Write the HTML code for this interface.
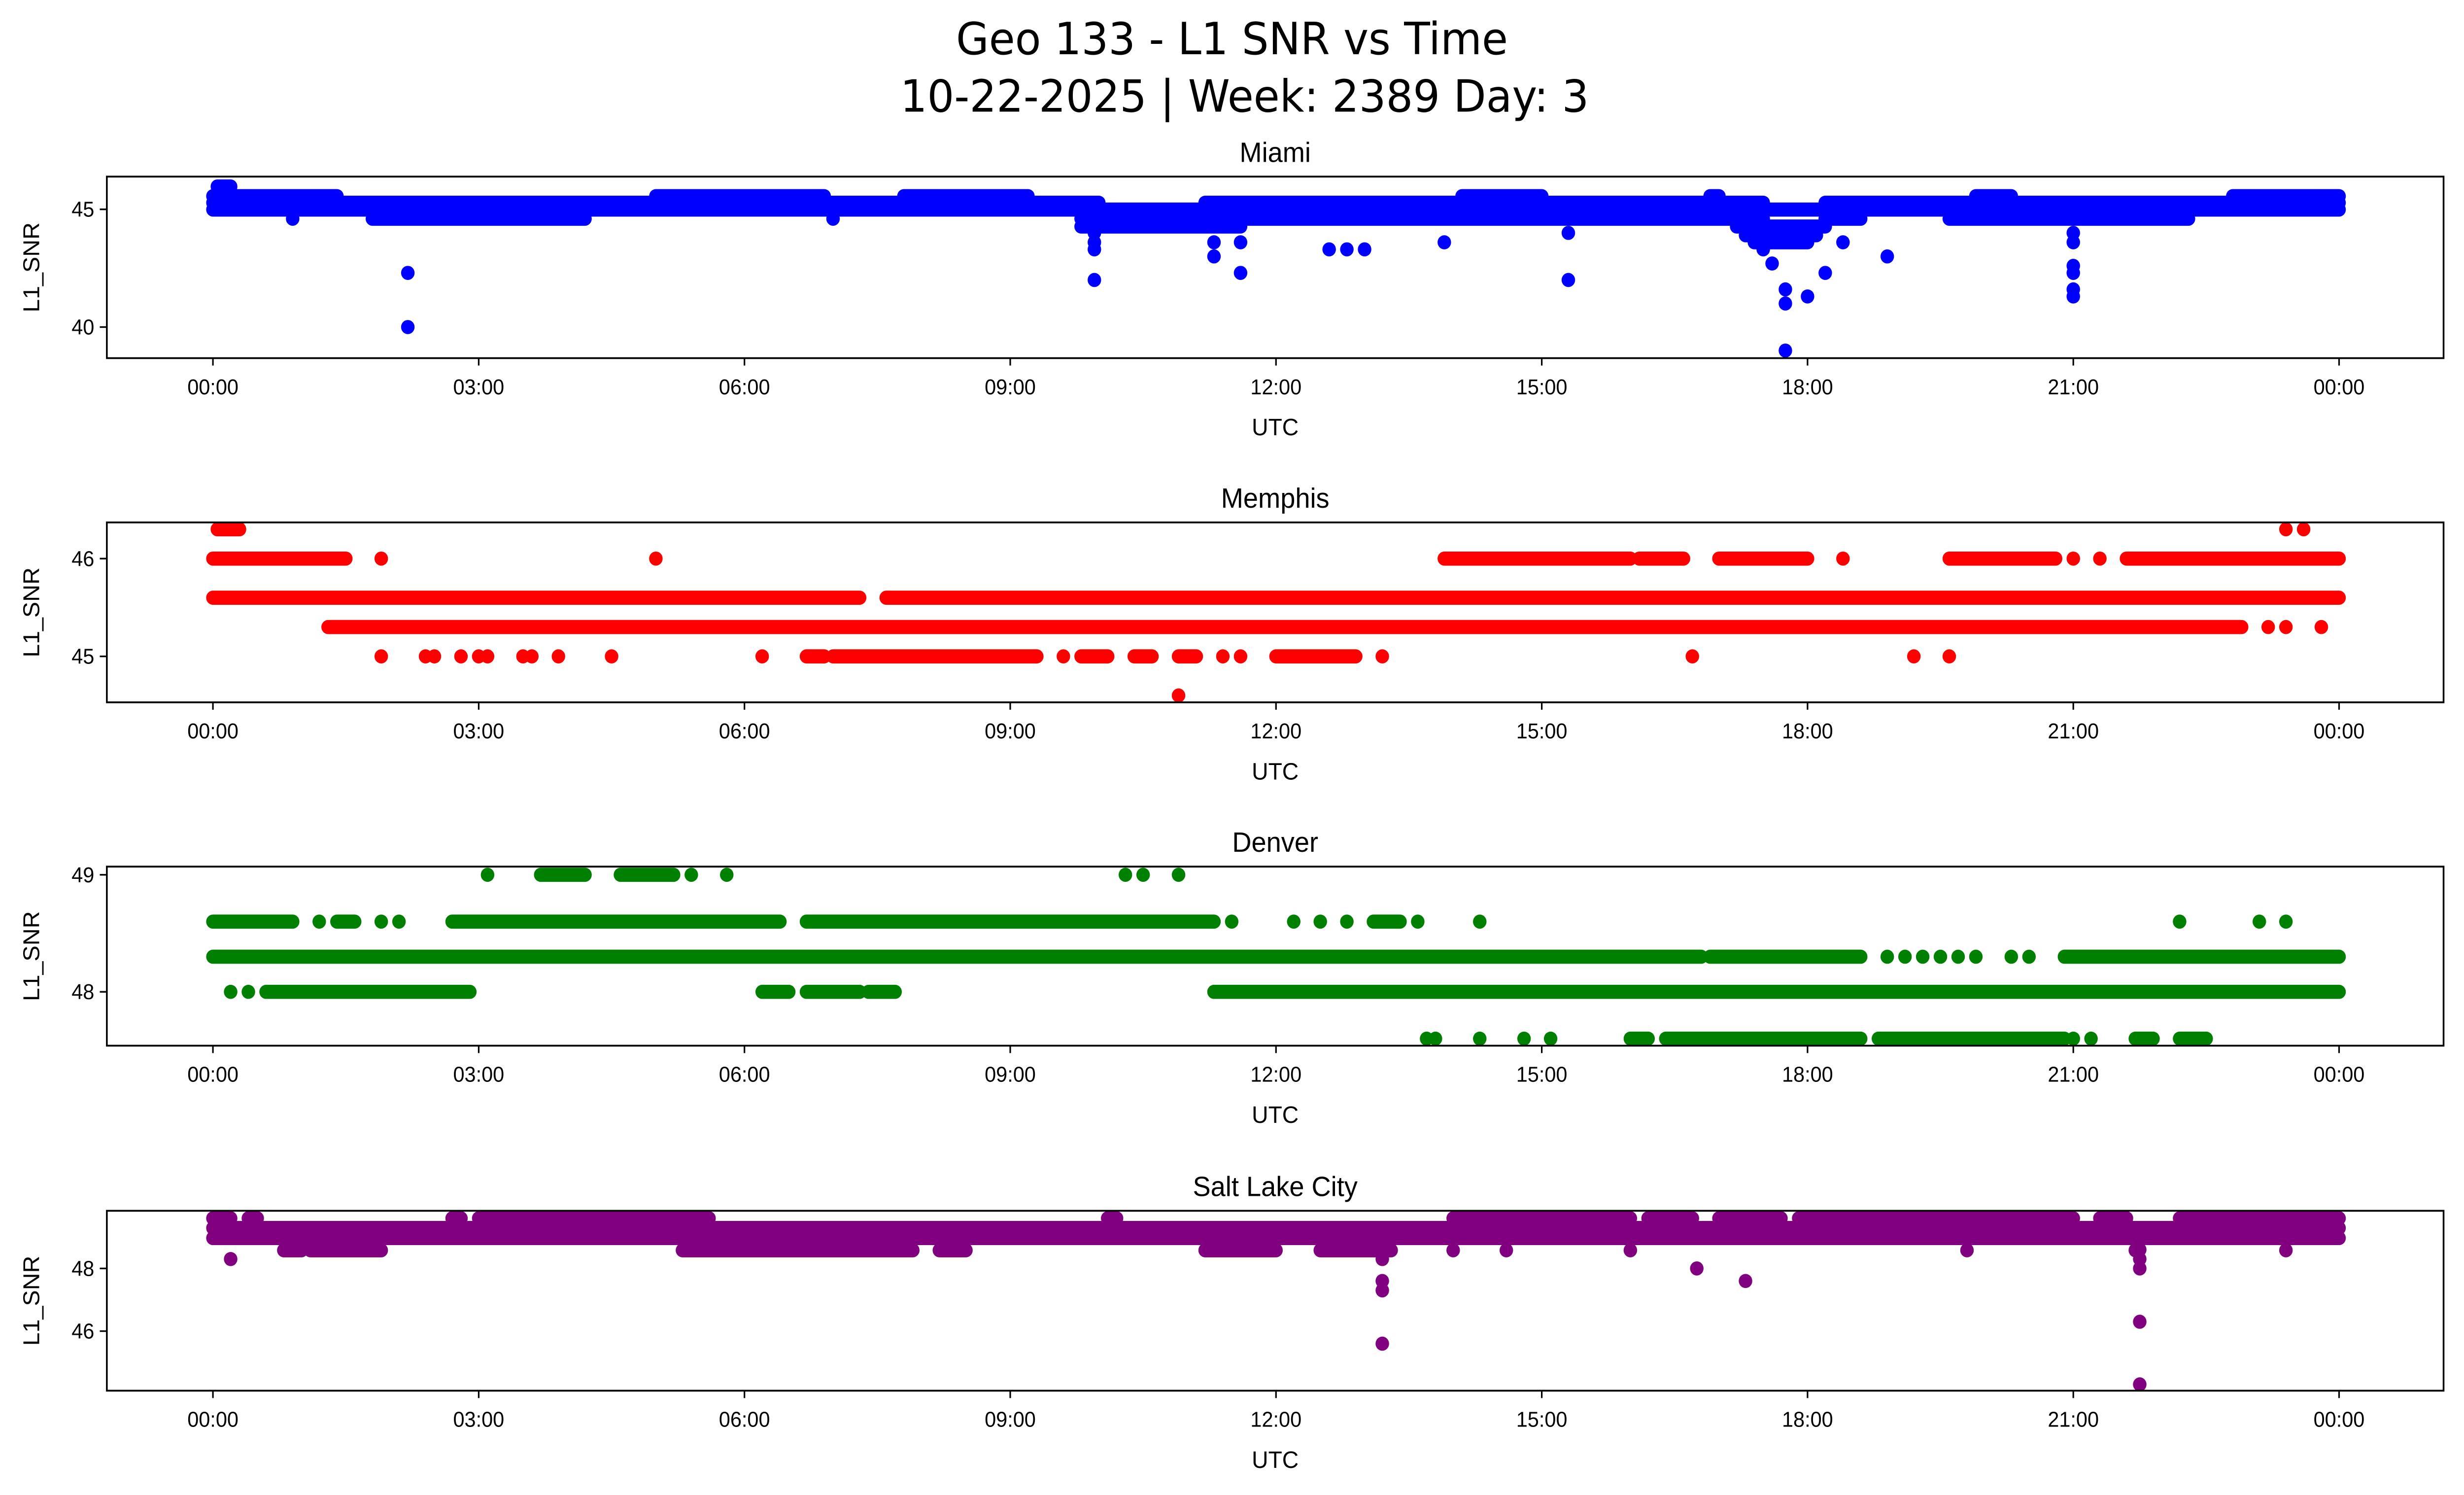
<!DOCTYPE html>
<html><head><meta charset="utf-8"><style>
html,body{margin:0;padding:0;background:#fff;overflow:hidden;width:100%;height:100%;}
svg{display:block;width:100vw;height:100vh;font-family:"Liberation Sans","DejaVu Sans",sans-serif;}
</style></head><body>
<svg id="fig" viewBox="0 0 1568 910" preserveAspectRatio="none" xmlns="http://www.w3.org/2000/svg">
<rect width="1568" height="910" fill="#fff"/>
<text x="784" y="33" font-size="27" text-anchor="middle" font-family="DejaVu Sans, sans-serif">Geo 133 - L1 SNR vs Time</text>
<text x="792" y="68" font-size="27" text-anchor="middle" font-family="DejaVu Sans, sans-serif">10-22-2025 | Week: 2389 Day: 3</text>
<g id="plots"></g>
</svg>
<script>
// x tick labels (hours)
const xTickHours = [0,3,6,9,12,15,18,21,24];
const xTickLabels = ["00:00","03:00","06:00","09:00","12:00","15:00","18:00","21:00","00:00"];

// Miami
const miamiRuns = [[45.97,0.05,0.2],[45.56,0,1.4],[45.56,5.0,6.9],[45.56,7.8,9.2],[45.56,14.1,15.0],[45.56,16.9,17.0],[45.56,19.9,20.3],[45.56,22.8,24],
 [45.28,0,10.0],[45.28,11.2,17.5],[45.28,18.2,24],[44.99,0,24],[44.6,1.8,4.2],[44.6,9.8,17.5],[44.6,18.2,18.6],[44.6,19.6,22.3],[44.27,9.8,11.6],[44.27,17.2,18.2],[43.9,17.3,18.1],[43.6,17.4,18.0]];
const miamiPts = [[2.2,42.3],[2.2,40],[9.95,42],[9.95,43.3],[9.95,43.6],[9.95,44],[11.3,43],[11.3,43.6],[11.6,42.3],[11.6,43.6],[12.6,43.3],[12.8,43.3],[13.0,43.3],[13.9,43.6],[15.3,42],[15.3,44],[17.5,43.3],[17.6,42.7],[17.75,41.6],[17.75,41],[17.75,39],[18.0,41.3],[18.2,42.3],[18.4,43.6],[18.9,43],[21.0,42.6],[21.0,42.3],[21.0,41.6],[21.0,41.3],[21.0,43.6],[21.0,44],[0.9,44.6],[7.0,44.6]];
// Memphis
const memphisRuns = [[46.3,0.05,0.3],[46.0,0,1.5],[46.0,13.9,16.0],[46.0,16.1,16.6],[46.0,17.0,18.0],[46.0,19.6,20.8],[46.0,21.6,24],
 [45.6,0,7.3],[45.6,7.6,24],[45.3,1.3,22.9],[45.0,7.0,9.3],[45.0,12.0,12.9],[45.0,6.7,6.9],[45.0,9.8,10.1],[45.0,10.4,10.6],[45.0,10.9,11.1]];
const memphisPts = [[23.4,46.3],[23.6,46.3],[1.9,46.0],[5.0,46.0],[18.4,46.0],[21.0,46.0],[21.3,46.0],[23.2,45.3],[23.4,45.3],[23.8,45.3],
 [1.9,45],[2.4,45],[2.5,45],[2.8,45],[3.0,45],[3.1,45],[3.5,45],[3.6,45],[3.9,45],[4.5,45],[6.2,45],[9.6,45],[11.4,45],[11.6,45],[13.2,45],[16.7,45],[19.2,45],[19.6,45],[10.9,44.6]];
// Denver
const denverRuns = [[49.0,3.7,4.2],[49.0,4.6,5.2],[48.6,0,0.9],[48.6,1.4,1.6],[48.6,2.7,6.4],[48.6,6.7,11.3],[48.6,13.1,13.4],
 [48.3,0,16.8],[48.3,16.9,18.6],[48.3,20.9,24],[48.0,0.6,2.9],[48.0,6.2,6.5],[48.0,6.7,7.3],[48.0,7.4,7.7],[48.0,11.3,24],
 [47.6,16.0,16.2],[47.6,16.4,18.6],[47.6,18.8,20.9],[47.6,21.7,21.9],[47.6,22.2,22.5]];
const denverPts = [[3.1,49],[5.4,49],[5.8,49],[10.3,49],[10.5,49],[10.9,49],[1.2,48.6],[1.9,48.6],[2.1,48.6],[11.5,48.6],[12.2,48.6],[12.5,48.6],[12.8,48.6],[13.6,48.6],[14.3,48.6],[22.2,48.6],[23.1,48.6],[23.4,48.6],
 [18.9,48.3],[19.1,48.3],[19.3,48.3],[19.5,48.3],[19.7,48.3],[19.9,48.3],[20.3,48.3],[20.5,48.3],[0.2,48],[0.4,48],
 [13.7,47.6],[13.8,47.6],[14.3,47.6],[14.8,47.6],[15.1,47.6],[21.0,47.6],[21.2,47.6]];
// Salt Lake City
const slcRuns = [[49.6,0,0.2],[49.6,0.4,0.5],[49.6,2.7,2.8],[49.6,3.0,5.6],[49.6,10.1,10.2],[49.6,14.0,16.0],[49.6,16.2,16.7],[49.6,17.0,17.7],[49.6,17.9,21.0],[49.6,21.3,21.6],[49.6,22.2,24],
 [49.29,0,24],[48.97,0,24],[48.58,0.8,1.0],[48.58,1.1,1.9],[48.58,5.3,7.9],[48.58,8.2,8.5],[48.58,11.2,12.0],[48.58,12.5,13.3]];
const slcPts = [[0.2,48.3],[13.2,48.3],[13.2,47.6],[13.2,47.3],[13.2,45.6],[16.75,48.0],[17.3,47.6],[21.75,48.6],[21.75,48.3],[21.75,48.0],[21.75,46.3],[21.75,44.3],[14.0,48.58],[14.6,48.58],[16.0,48.58],[19.8,48.58],[21.7,48.58],[23.4,48.58]];

const panels = [
 {name:"miami",title:"Miami",color:"#0000ff",top:107.5,bot:218,ymin:38.68,ymax:46.39,ticks:[40,45],runs:miamiRuns,pts:miamiPts},
 {name:"memphis",title:"Memphis",color:"#ff0000",top:318,bot:427.5,ymin:44.53,ymax:46.37,ticks:[45,46],runs:memphisRuns,pts:memphisPts},
 {name:"denver",title:"Denver",color:"#008000",top:527.5,bot:636.5,ymin:47.54,ymax:49.07,ticks:[48,49],runs:denverRuns,pts:denverPts},
 {name:"salt-lake-city",title:"Salt Lake City",color:"#800080",top:737,bot:846.5,ymin:44.1,ymax:49.84,ticks:[46,48],runs:slcRuns,pts:slcPts}
];
const NS="http://www.w3.org/2000/svg";
const L=68,R=1555,X0=135.5,X1=1488.5,MR=4.3;
const xs=h=>X0+(X1-X0)*h/24;
function mk(tag,attrs,parent){const e=document.createElementNS(NS,tag);for(const k in attrs)e.setAttribute(k,attrs[k]);parent.appendChild(e);return e;}
const root=document.getElementById('plots');
panels.forEach(p=>{
 const ys=v=>p.bot-(v-p.ymin)/(p.ymax-p.ymin)*(p.bot-p.top);
 const g=mk('g',{},root);
 
 
 const t=mk('text',{x:(L+R)/2,y:p.top-9,'font-size':17,'text-anchor':'middle'},g);t.textContent=p.title;
 
 
 const sg=mk('g',{},g);
 
 
 p.runs.forEach(r=>{
  const ln=mk('line',{x1:xs(r[1]),x2:xs(r[2]),y1:ys(r[0]),y2:ys(r[0]),stroke:p.color,'stroke-width':MR*2,'stroke-linecap':'round'},sg);
  
  
 });
 p.pts.forEach(q=>{
  const c=mk('circle',{cx:xs(q[0]),cy:ys(q[1]),r:MR,fill:p.color},sg);
  
  
 });
 const fr=mk('rect',{x:L,y:p.top,width:R-L,height:p.bot-p.top,fill:'none',stroke:'#000','stroke-width':1.1},g);
 
 
 p.ticks.forEach(v=>{
  mk('line',{x1:L-4.5,x2:L,y1:ys(v),y2:ys(v),stroke:'#000','stroke-width':1},g);
  const tl=mk('text',{x:L-8,y:ys(v)+4.5,'font-size':13,'text-anchor':'end'},g);tl.textContent=v;
  
  
 });
 xTickHours.forEach((h,i)=>{
  mk('line',{x1:xs(h),x2:xs(h),y1:p.bot,y2:p.bot+4.5,stroke:'#000','stroke-width':1},g);
  const tl=mk('text',{x:xs(h),y:p.bot+22,'font-size':13,'text-anchor':'middle'},g);tl.textContent=xTickLabels[i];
  
  
 });
 const xl=mk('text',{x:(L+R)/2,y:p.bot+47,'font-size':14.5,'text-anchor':'middle'},g);xl.textContent='UTC';
 
 
 const cy=(p.top+p.bot)/2;
 const yl=mk('text',{x:0,y:0,'font-size':14.5,'text-anchor':'middle',transform:`translate(25,${cy}) rotate(-90)`},g);yl.textContent='L1_SNR';
 
 
});
</script>
</body></html>
